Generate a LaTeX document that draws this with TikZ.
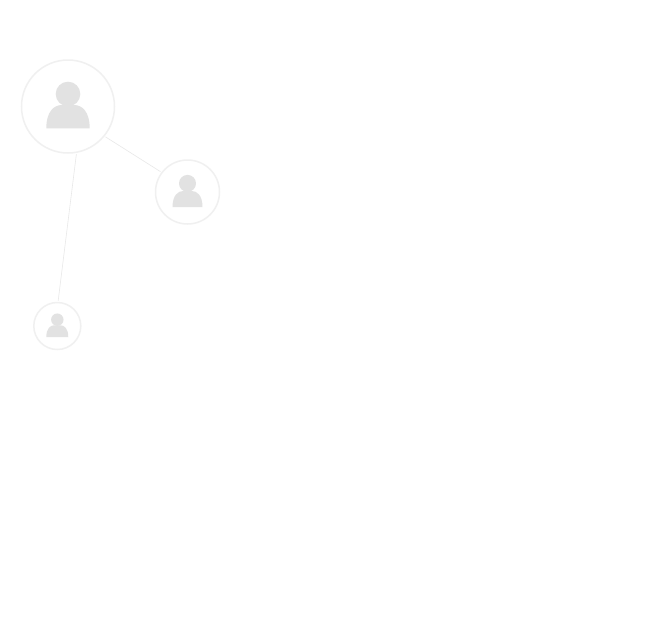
\documentclass[tikz,border=0pt]{standalone}
\definecolor{ringgray}{HTML}{F0F0F0}
\definecolor{linkgray}{HTML}{E8E8E8}
\definecolor{persongray}{HTML}{E2E2E2}
\tikzset{
  x=1pt,y=-1pt,
  avatar/.style={circle,draw=ringgray,line width=1.5pt,fill=white,inner sep=0pt,minimum size=#1,outer sep=1.8pt},
  link/.style={draw=linkgray,line width=0.6pt},
  person/.pic={
    \fill[persongray] (0,-12.5) circle[radius=12.3];
    \fill[persongray] (-21.7,21.8) .. controls (-21.7,5) and (-14,-1.5) .. (-6,-1.5)
      -- (6,-1.5) .. controls (14,-1.5) and (21.7,5) .. (21.7,21.8) -- cycle;
  }
}
\begin{document}
\begin{tikzpicture}
\useasboundingbox[fill=white] (0,0) rectangle (660,641);
\node[avatar=93pt] (a) at (68,106.5) {};
\node[avatar=64pt] (b) at (187.5,192) {};
\node[avatar=47pt] (c) at (57.3,326) {};
\draw[link] (a.-39) -- (b.143);
\draw[link] (a.-80) -- (c.88);
\pic[scale=1] at (a) {person};
\pic[scale=0.69] at (b) {person};
\pic[scale=0.505] at (c) {person};
\end{tikzpicture}
\end{document}
